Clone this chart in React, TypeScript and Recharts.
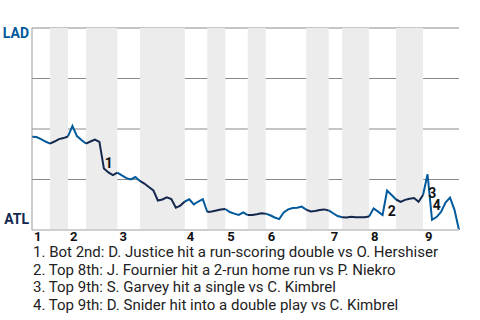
import {
  LineChart,
  Line,
  XAxis,
  YAxis,
  CartesianGrid,
  ReferenceArea,
  ReferenceDot,
} from "recharts";

// LAD win probability (%) after each plate appearance
const ladWinPct = [
  46.2, 46.0, 45.0, 43.8, 42.8, 43.8, 45.0, 45.5, 46.3, 51.5,
  46.5, 44.6, 42.8, 43.8, 44.8, 43.6, 30.4, 28.5, 27.2, 28.4,
  27.0, 25.7, 25.0, 26.2, 24.3, 23.0, 21.3, 19.6, 14.6, 15.1,
  16.2, 15.3, 11.0, 12.1, 14.1, 15.2, 12.7, 14.1, 15.3, 8.9,
  9.2, 9.7, 10.1, 10.4, 8.9, 8.1, 7.5, 8.7, 7.4, 7.4,
  7.8, 8.3, 8.1, 7.3, 6.2, 5.4, 8.7, 10.2, 10.9, 11.0,
  11.6, 10.1, 9.2, 9.4, 9.9, 10.2, 9.7, 8.3, 6.9, 6.3,
  6.2, 6.6, 6.3, 6.3, 6.3, 6.7, 10.7, 9.1, 7.4, 19.5,
  17.3, 15.1, 13.9, 14.9, 15.5, 15.8, 14.0, 17.3, 27.6, 5.0,
  6.4, 8.9, 13.6, 16.0, 10.0, 0,
];

// play index where each half inning starts (top 1st, bot 1st, top 2nd, ...), last = end of game
const halfStarts = [0, 4, 8, 12, 19, 24, 34, 39, 43, 48, 52, 61, 66, 69, 75, 81, 87, 95];
const innings = ["1", "2", "3", "4", "5", "6", "7", "8", "9"];

const awayTeam = "LAD";
const homeTeam = "ATL";
const awayColor = "#005A9C";
const homeColor = "#13274F";

const eventPlays = [16, 79, 88, 89];
const eventTexts = [
  "Bot 2nd: D. Justice hit a run-scoring double vs O. Hershiser",
  "Top 8th: J. Fournier hit a 2-run home run vs P. Niekro",
  "Top 9th: S. Garvey hit a single vs C. Kimbrel",
  "Top 9th: D. Snider hit into a double play vs C. Kimbrel",
];

const inHalf = (i: number, parity: number) =>
  halfStarts.slice(0, -1).some((s, k) => k % 2 === parity && i >= s && i <= halfStarts[k + 1]);

const data = ladWinPct.map((v, i) => ({
  i,
  top: inHalf(i, 0) ? v : null,
  bot: inHalf(i, 1) ? v : null,
}));

const inningTicks = halfStarts.filter((_, k) => k % 2 === 0).slice(0, innings.length);
const lastPlay = ladWinPct.length - 1;

const XTick = ({ x, y, payload }: any) => (
  <text x={x + 2} y={y + 11} fontSize={13} fontWeight={700} fill="#111" textAnchor="start">
    {innings[inningTicks.indexOf(payload.value)]}
  </text>
);

const YTick = ({ x, y, payload }: any) => {
  if (payload.value === 100)
    return (
      <text x={x} y={y + 10} fontSize={14} fontWeight={700} fill={awayColor} textAnchor="end">
        {awayTeam}
      </text>
    );
  if (payload.value === 0)
    return (
      <text x={x} y={y - 6} fontSize={14} fontWeight={700} fill={homeColor} textAnchor="end">
        {homeTeam}
      </text>
    );
  return null;
};

const App = () => {
  return (
    <div
      style={{
        position: "absolute",
        left: 0,
        top: 0,
        width: 480,
        height: 320,
        background: "#fff",
        fontFamily: "Roboto",
      }}
    >
      <LineChart width={480} height={246} data={data} margin={{ top: 28, right: 21, left: 0, bottom: 0 }}>
        {halfStarts.slice(0, -1).map((s, k) =>
          k % 2 === 1 ? (
            <ReferenceArea
              key={`bot-${k}`}
              x1={s}
              x2={halfStarts[k + 1]}
              y1={0}
              y2={100}
              fill="#ececec"
              fillOpacity={1}
              stroke="none"
            />
          ) : null
        )}
        <CartesianGrid vertical={false} stroke="#8a8a8a" />
        <XAxis
          type="number"
          dataKey="i"
          domain={[0, lastPlay]}
          ticks={inningTicks}
          interval={0}
          tick={<XTick />}
          tickLine={false}
          tickSize={0}
          tickMargin={0}
          height={16}
          axisLine={{ stroke: "#cfcfcf", strokeWidth: 2 }}
        />
        <YAxis
          type="number"
          domain={[0, 100]}
          ticks={[0, 25, 50, 75, 100]}
          interval={0}
          width={32}
          tick={<YTick />}
          tickLine={false}
          tickSize={0}
          tickMargin={3}
          axisLine={{ stroke: "#999" }}
        />
        <Line
          dataKey="top"
          stroke={awayColor}
          strokeWidth={2}
          dot={false}
          type="linear"
          isAnimationActive={false}
        />
        <Line
          dataKey="bot"
          stroke={homeColor}
          strokeWidth={2}
          dot={false}
          type="linear"
          isAnimationActive={false}
        />
        {eventPlays.map((p, n) => (
          <ReferenceDot
            key={`ev-${n}`}
            x={p - 0.5}
            y={(ladWinPct[p - 1] + ladWinPct[p]) / 2}
            r={0}
            ifOverflow="visible"
            shape={(props: any) => (
              <text x={props.cx + 3} y={props.cy + 13} fontSize={14} fontWeight={700} fill="#111">
                {n + 1}
              </text>
            )}
          />
        ))}
      </LineChart>
      <div
        style={{
          position: "absolute",
          left: 33,
          top: 244,
          fontSize: 15,
          lineHeight: "17.7px",
          color: "#222",
          whiteSpace: "nowrap",
        }}
      >
        {eventTexts.map((t, n) => (
          <div key={n}>
            {n + 1}. {t}
          </div>
        ))}
      </div>
    </div>
  );
};

export default App;
